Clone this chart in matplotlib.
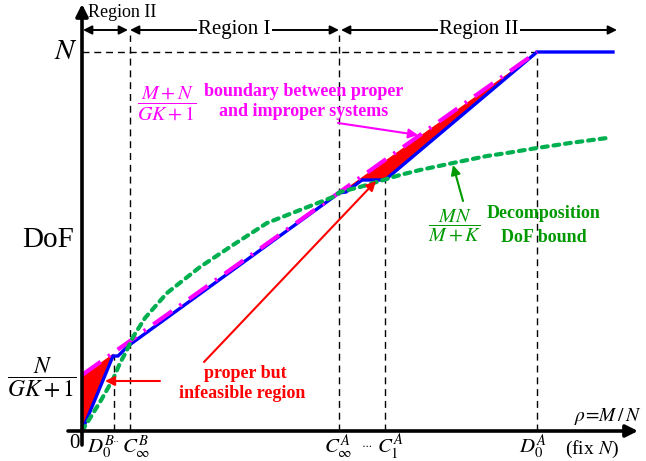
import numpy as np
import matplotlib
matplotlib.use("Agg")
import matplotlib.pyplot as plt

plt.rcParams['font.family'] = ['Liberation Serif', 'DejaVu Serif']
plt.rcParams['mathtext.fontset'] = 'stix'

# ---------------------------------------------------------------
# schematic values (x = rho axis, y = DoF axis, arbitrary units)
# ---------------------------------------------------------------
N_level = 379
N_over_GK1 = 56

tick_names = ['D0B', 'CinfB', 'CinfA', 'C1A', 'D0A']
tick_x = [32, 48, 257, 303, 455]

# achievable DoF (blue)
blue_x = [0, 31, 36, 46, 257, 264, 280, 303, 455, 531]
blue_y = [0, 75, 75, 85, 238, 239, 251, 251, 379, 379]

# boundary (M+N)/(GK+1) (magenta)
mag_x = [0, 455]
mag_y = [56, 379]

# decomposition bound MN/(M+K) (green)
green_x = [0, 10, 18, 26, 32, 38, 44, 51, 63, 85, 118, 151, 185, 218, 251,
           258, 278, 298, 318, 338, 371, 405, 425, 455, 488, 525]
green_y = [0, 16, 29, 43, 54, 68, 79, 94, 113, 138, 164, 186, 208, 221, 234,
           239, 244, 250, 256, 261, 268, 275, 278, 283, 288, 293]

BLUE = '#0000FF'
MAG = '#FF00FF'
RED = '#FF0000'
GREEN = '#00B050'
GREEN_TXT = '#009900'

fig = plt.figure(figsize=(6.46, 4.61), dpi=100)
ax = fig.add_axes([0, 0, 1, 1])
ax.set_xlim(-82, 564)
ax.set_ylim(-30, 431)
ax.axis('off')

# ---- red "proper but infeasible" regions ----
bx = np.array(blue_x, dtype=float)
by = np.array(blue_y, dtype=float)
for lo, hi in [(0, 31), (257, 455)]:
    sel = (bx >= lo) & (bx <= hi)
    xs = bx[sel]
    ax.fill_between(xs, by[sel], np.interp(xs, mag_x, mag_y),
                    color=RED, lw=0, zorder=2)

# ---- curves ----
ax.plot(blue_x, blue_y, color=BLUE, lw=2.4, zorder=3, solid_joinstyle='miter')
ax.plot(mag_x, mag_y, color=MAG, lw=3, dashes=(5.5, 2.2, 0.6, 2.2), zorder=4)
ax.plot(green_x, green_y, color=GREEN, lw=3, dashes=(1.4, 1.4),
        dash_capstyle='round', zorder=5)

# ---- dashed guides ----
dash = dict(color='black', lw=1, linestyle=(0, (5, 3.5)), zorder=1)
ax.plot([0, tick_x[4]], [N_level, N_level], **dash)
ax.plot([tick_x[0]] * 2, [0, 75], **dash)
ax.plot([tick_x[1]] * 2, [0, 396], **dash)
ax.plot([tick_x[2]] * 2, [0, 396], **dash)
ax.plot([tick_x[3]] * 2, [0, 251], **dash)
ax.plot([tick_x[4]] * 2, [0, N_level], **dash)

# ---- axes with arrows ----
ax.annotate('', xy=(0, 427), xytext=(0, -14),
            arrowprops=dict(arrowstyle='-|>', lw=2.6, color='black',
                            mutation_scale=18, shrinkA=0, shrinkB=0), zorder=6)
ax.annotate('', xy=(556, 0), xytext=(-14, 0),
            arrowprops=dict(arrowstyle='-|>', lw=2.6, color='black',
                            mutation_scale=18, shrinkA=0, shrinkB=0), zorder=6)

# ---- region arrows on top ----
def region(x0, x1, y, label=None, size=15):
    ax.annotate('', xy=(x1, y), xytext=(x0, y),
                arrowprops=dict(arrowstyle='<|-|>', lw=1.4, color='black',
                                mutation_scale=13, shrinkA=0, shrinkB=0))
    if label:
        ax.text((x0 + x1) / 2, y, label, fontsize=size, ha='center', va='center',
                bbox=dict(facecolor='white', edgecolor='none', pad=1))

region(1, 46, 401)
region(48, 257, 401, 'Region I')
region(259, 535, 401, 'Region II')
ax.text(6, 418, 'Region II', fontsize=13, ha='left', va='center')

# ---- axis labels ----
ax.text(-16, N_level, r'$N$', fontsize=21, ha='center', va='center')
ax.text(-34, 191, 'DoF', fontsize=21, ha='center', va='center')
ax.text(-40, 53, r'$\dfrac{N}{GK+1}$', fontsize=17, ha='center', va='center')
ax.text(-8, -12, '0', fontsize=15, ha='center', va='center')

ax.text(19, -16, r'$D_0^B$', fontsize=15, ha='center', va='center')
ax.text(32, -10, r'$\cdots$', fontsize=6, ha='center', va='center')
ax.text(54, -16, r'$C_\infty^B$', fontsize=15, ha='center', va='center')
ax.text(256, -16, r'$C_\infty^A$', fontsize=15, ha='center', va='center')
ax.text(285, -13, r'$\cdots$', fontsize=8, ha='center', va='center')
ax.text(308, -16, r'$C_1^A$', fontsize=15, ha='center', va='center')
ax.text(451, -16, r'$D_0^A$', fontsize=15, ha='center', va='center')
ax.text(526, 15, r'$\rho\!=\!M\,/\,N$', fontsize=14, ha='center', va='center')
ax.text(510, -18, r'(fix $N$)', fontsize=14, ha='center', va='center')

# ---- magenta annotation ----
ax.text(85, 328, r'$\dfrac{M+N}{GK+1}$', fontsize=14.5, color=MAG,
        ha='center', va='center')
ax.text(222, 339, 'boundary between proper', fontsize=13, fontweight='bold',
        color=MAG, ha='center', va='center')
ax.text(222, 319, 'and improper systems', fontsize=13, fontweight='bold',
        color=MAG, ha='center', va='center')
ax.annotate('', xy=(336, 296), xytext=(256, 308),
            arrowprops=dict(arrowstyle='-|>', lw=1.5, color=MAG,
                            mutation_scale=14, shrinkA=0, shrinkB=0), zorder=7)

# ---- green annotation ----
ax.text(373, 206, r'$\dfrac{MN}{M+K}$', fontsize=14.5, color=GREEN_TXT,
        ha='center', va='center')
ax.text(462, 218, 'Decomposition', fontsize=13, fontweight='bold',
        color=GREEN_TXT, ha='center', va='center')
ax.text(462, 194, 'DoF bound', fontsize=13, fontweight='bold',
        color=GREEN_TXT, ha='center', va='center')
ax.annotate('', xy=(371, 266), xytext=(381, 230),
            arrowprops=dict(arrowstyle='-|>', lw=1.5, color=GREEN_TXT,
                            mutation_scale=14, shrinkA=0, shrinkB=0), zorder=7)

# ---- red annotation ----
ax.text(163, 58, 'proper but', fontsize=13, fontweight='bold',
        color=RED, ha='center', va='center')
ax.text(160, 38, 'infeasible region', fontsize=13, fontweight='bold',
        color=RED, ha='center', va='center')
ax.annotate('', xy=(23, 50), xytext=(78, 50),
            arrowprops=dict(arrowstyle='-|>', lw=1.5, color=RED,
                            mutation_scale=14, shrinkA=0, shrinkB=0), zorder=7)
ax.annotate('', xy=(294, 250), xytext=(122, 69),
            arrowprops=dict(arrowstyle='-|>', lw=1.5, color=RED,
                            mutation_scale=14, shrinkA=0, shrinkB=0), zorder=7)

fig.savefig('out.png', dpi=100)
